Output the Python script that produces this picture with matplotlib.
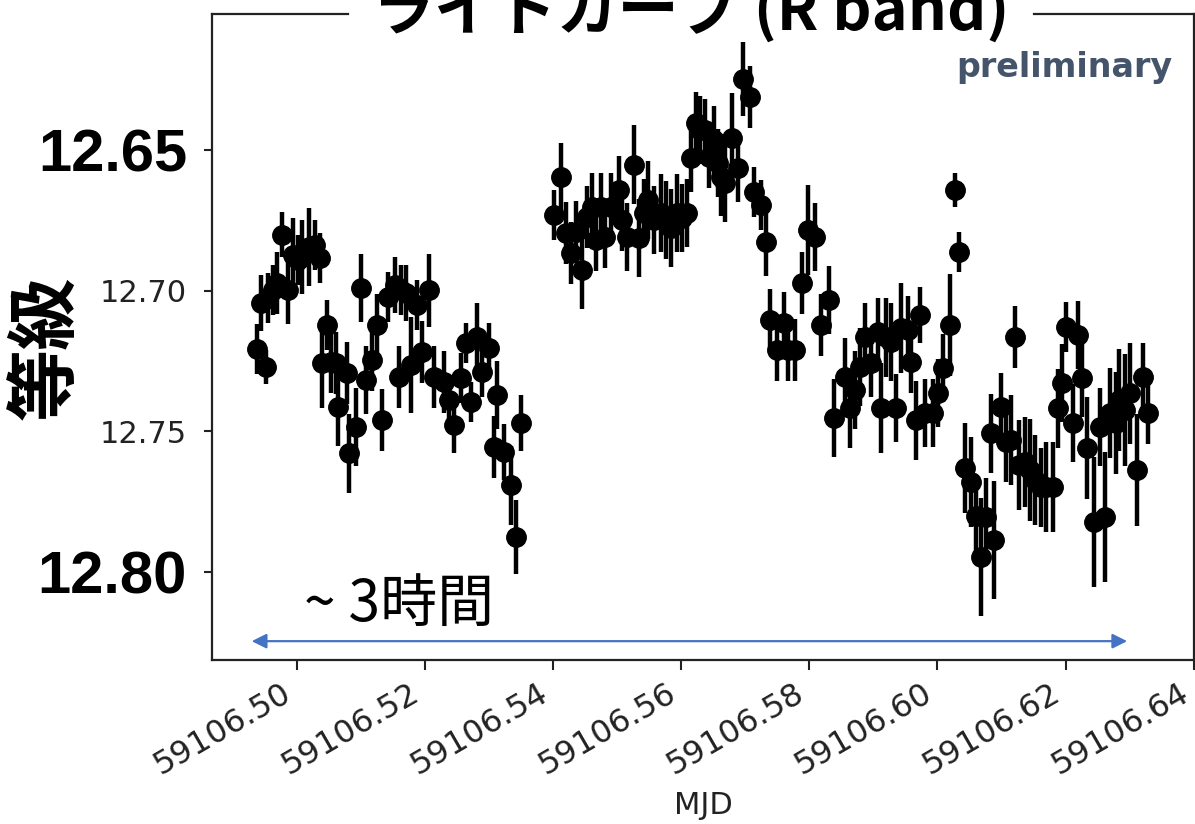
import numpy as np
import matplotlib
matplotlib.use('Agg')
import matplotlib.pyplot as plt

# MJD = mjd_base + fraction
mjd_base = 59106.0
mjd_frac = [
    # first block
    0.4938, 0.4944, 0.4953, 0.4955, 0.4963, 0.4970, 0.4978, 0.4986, 0.4994, 0.5002,
    0.5009, 0.5020, 0.5028, 0.5036, 0.5039, 0.5047, 0.5054, 0.5062, 0.5064, 0.5078,
    0.5082, 0.5093, 0.5101, 0.5109, 0.5118, 0.5126, 0.5134, 0.5142, 0.5153, 0.5160,
    0.5163, 0.5171, 0.5179, 0.5188, 0.5196, 0.5207, 0.5215, 0.5230, 0.5238, 0.5246,
    0.5257, 0.5265, 0.5272, 0.5282, 0.5289, 0.5300, 0.5308, 0.5313, 0.5324, 0.5335,
    0.5342, 0.5350,
    # second block
    0.5402, 0.5412, 0.5420, 0.5428, 0.5436, 0.5445, 0.5453, 0.5461, 0.5467, 0.5475,
    0.5482, 0.5490, 0.5503, 0.5507, 0.5515, 0.5526, 0.5534, 0.5542, 0.5549, 0.5557,
    0.5568, 0.5577, 0.5584, 0.5593, 0.5601, 0.5609, 0.5616, 0.5623, 0.5630, 0.5638,
    0.5643, 0.5651, 0.5658, 0.5663, 0.5669, 0.5679, 0.5689, 0.5697, 0.5708, 0.5713,
    0.5724, 0.5733, 0.5739, 0.5749, 0.5760, 0.5767, 0.5778, 0.5788, 0.5798, 0.5809,
    0.5819, 0.5830, 0.5839, 0.5856, 0.5864, 0.5872, 0.5879, 0.5887, 0.5896, 0.5907,
    0.5912, 0.5920, 0.5928, 0.5935, 0.5943, 0.5954, 0.5959, 0.5967, 0.5973, 0.5981,
    0.5993, 0.6001, 0.6009, 0.6019, 0.6027, 0.6033, 0.6043, 0.6052, 0.6060, 0.6068,
    0.6075, 0.6083, 0.6089, 0.6099, 0.6107, 0.6114, 0.6121, 0.6128, 0.6136, 0.6144,
    0.6152, 0.6161, 0.6169, 0.6180, 0.6188, 0.6195, 0.6200, 0.6211, 0.6219, 0.6226,
    0.6234, 0.6245, 0.6254, 0.6261, 0.6270, 0.6278, 0.6284, 0.6292, 0.6301, 0.6312,
    0.6320, 0.6328,
]

mag = [
    12.7207, 12.7044, 12.7271, 12.7026, 12.6998, 12.6973, 12.6802, 12.6998, 12.6873, 12.6891,
    12.6880, 12.6845, 12.6838, 12.6884, 12.7257, 12.7122, 12.7253, 12.7257, 12.7413, 12.7292,
    12.7577, 12.7484, 12.6990, 12.7317, 12.7246, 12.7122, 12.7460, 12.7022, 12.6980, 12.7307,
    12.6998, 12.7008, 12.7264, 12.7051, 12.7218, 12.6998, 12.7307, 12.7324, 12.7388, 12.7477,
    12.7310, 12.7186, 12.7396, 12.7165, 12.7289, 12.7204, 12.7555, 12.7371, 12.7573, 12.7691,
    12.7875, 12.7470,
    12.6731, 12.6596, 12.6795, 12.6866, 12.6791, 12.6926, 12.6738, 12.6703, 12.6820, 12.6703,
    12.6809, 12.6703, 12.6642, 12.6749, 12.6809, 12.6553, 12.6813, 12.6724, 12.6678, 12.6749,
    12.6724, 12.6749, 12.6777, 12.6724, 12.6742, 12.6724, 12.6528, 12.6404, 12.6429, 12.6429,
    12.6525, 12.6464, 12.6546, 12.6596, 12.6617, 12.6457, 12.6564, 12.6248, 12.6312, 12.6649,
    12.6695, 12.6827, 12.7104, 12.7211, 12.7115, 12.7211, 12.7211, 12.6973, 12.6784, 12.6809,
    12.7122, 12.7033, 12.7452, 12.7307, 12.7417, 12.7353, 12.7271, 12.7165, 12.7257, 12.7147,
    12.7417, 12.7165, 12.7182, 12.7417, 12.7133, 12.7140, 12.7253, 12.7460, 12.7086, 12.7435,
    12.7435, 12.7364, 12.7275, 12.7122, 12.6642, 12.6862, 12.7630, 12.7680, 12.7801, 12.7946,
    12.7804, 12.7506, 12.7886, 12.7413, 12.7538, 12.7531, 12.7165, 12.7619, 12.7609, 12.7637,
    12.7673, 12.7698, 12.7698, 12.7698, 12.7417, 12.7328, 12.7129, 12.7470, 12.7157, 12.7310,
    12.7559, 12.7822, 12.7484, 12.7804, 12.7435, 12.7470, 12.7388, 12.7424, 12.7364, 12.7637,
    12.7307, 12.7435,
]

mag_err = [
    0.009, 0.010, 0.006, 0.009, 0.009, 0.011, 0.008, 0.012, 0.013, 0.009,
    0.013, 0.014, 0.009, 0.009, 0.016, 0.009, 0.011, 0.011, 0.014, 0.011,
    0.014, 0.014, 0.012, 0.012, 0.011, 0.011, 0.011, 0.009, 0.010, 0.011,
    0.009, 0.010, 0.017, 0.009, 0.011, 0.013, 0.011, 0.011, 0.009, 0.010,
    0.009, 0.007, 0.007, 0.012, 0.009, 0.009, 0.011, 0.012, 0.010, 0.014,
    0.013, 0.010,
    0.009, 0.012, 0.011, 0.011, 0.011, 0.014, 0.011, 0.012, 0.011, 0.012,
    0.011, 0.012, 0.012, 0.011, 0.012, 0.014, 0.014, 0.012, 0.014, 0.012,
    0.014, 0.014, 0.014, 0.014, 0.012, 0.012, 0.012, 0.011, 0.012, 0.011,
    0.011, 0.012, 0.012, 0.014, 0.014, 0.016, 0.012, 0.013, 0.011, 0.009,
    0.009, 0.012, 0.011, 0.011, 0.011, 0.011, 0.011, 0.011, 0.016, 0.012,
    0.011, 0.012, 0.014, 0.014, 0.014, 0.014, 0.014, 0.012, 0.012, 0.012,
    0.016, 0.014, 0.014, 0.012, 0.016, 0.012, 0.011, 0.014, 0.010, 0.012,
    0.012, 0.012, 0.012, 0.018, 0.006, 0.007, 0.016, 0.016, 0.014, 0.021,
    0.014, 0.014, 0.021, 0.012, 0.014, 0.016, 0.011, 0.016, 0.016, 0.018,
    0.016, 0.014, 0.016, 0.016, 0.014, 0.014, 0.009, 0.014, 0.012, 0.014,
    0.018, 0.023, 0.014, 0.023, 0.016, 0.018, 0.018, 0.020, 0.018, 0.020,
    0.012, 0.011,
]

xticks = [59106.50, 59106.52, 59106.54, 59106.56, 59106.58, 59106.60, 59106.62, 59106.64]
yticks = [12.65, 12.70, 12.75, 12.80]
big_yticks = [12.65, 12.80]

# "~3 hours" span arrow
span_start = 59106.4930
span_end = 59106.6296
span_mag = 12.8245

plt.rcParams['font.family'] = ['DejaVu Sans', 'Noto Sans CJK JP']
jp_font = ['Noto Sans CJK JP', 'DejaVu Sans']

fig = plt.figure(figsize=(11.95, 8.24), dpi=100)
ax = fig.add_axes([0.1774, 0.199, 0.8216, 0.784])

mjd = mjd_base + np.array(mjd_frac)
ax.errorbar(mjd, mag, yerr=mag_err, fmt='o', color='black', ms=14,
            elinewidth=3.2, capsize=0)

ax.set_xlim(59106.4868, 59106.6396)
ax.set_ylim(12.8312, 12.6017)

ax.set_xticks(xticks)
ax.set_xticklabels([f'{v:.2f}' for v in xticks], rotation=30, ha='right',
                   fontsize=23, color='#222222')
ax.set_yticks(yticks)
ax.set_yticklabels([f'{v:.2f}' for v in yticks])
for val, lab in zip(yticks, ax.get_yticklabels()):
    if val in big_yticks:
        lab.set_fontsize(43)
        lab.set_fontweight('bold')
        lab.set_fontfamily(['Liberation Sans', 'DejaVu Sans'])
        lab.set_color('black')
    else:
        lab.set_fontsize(22)
        lab.set_color('#222222')

ax.tick_params(axis='x', length=7, width=1.5, pad=6, color='#222222')
ax.tick_params(axis='y', length=6, width=1.5, pad=12, color='#222222')
for s in ax.spines.values():
    s.set_linewidth(1.6)
    s.set_color('#222222')

ax.set_xlabel('MJD', fontsize=22, color='#222222')
ax.xaxis.set_label_coords(0.5, -0.203)

fig.text(47 / 1195, 1 - 348 / 824, '等級', rotation=90, ha='center', va='center',
         fontsize=52, fontweight='bold', family=jp_font)

fig.text(1172 / 1195, 1 - 67 / 824, 'preliminary', ha='right', va='center',
         fontsize=24, fontweight='bold', color='#44546A')

ax.text(59106.5012, 12.8117, '~ 3時間', fontsize=41, family=jp_font,
        ha='left', va='center')
ax.annotate('', xy=(span_end, span_mag), xytext=(span_start, span_mag),
            arrowprops=dict(arrowstyle='<|-|>', color='#4472C4', lw=1.6,
                            mutation_scale=22, shrinkA=0, shrinkB=0))

title = fig.text(691 / 1195, 1 - 30 / 824, 'ライトカーブ (R band)', ha='center',
                 va='baseline', fontsize=44, fontweight='bold', family=jp_font)

# split the top spine around the title
ax.spines['top'].set_visible(False)
fig.canvas.draw()
bb = title.get_window_extent().transformed(ax.transAxes.inverted())
gap = 25 / (ax.get_window_extent().width)
ax.plot([0, bb.x0 - gap], [1, 1], transform=ax.transAxes, clip_on=False,
        color='#222222', lw=1.6)
ax.plot([bb.x1 + gap, 1], [1, 1], transform=ax.transAxes, clip_on=False,
        color='#222222', lw=1.6)

fig.savefig('out.png', dpi=100)
